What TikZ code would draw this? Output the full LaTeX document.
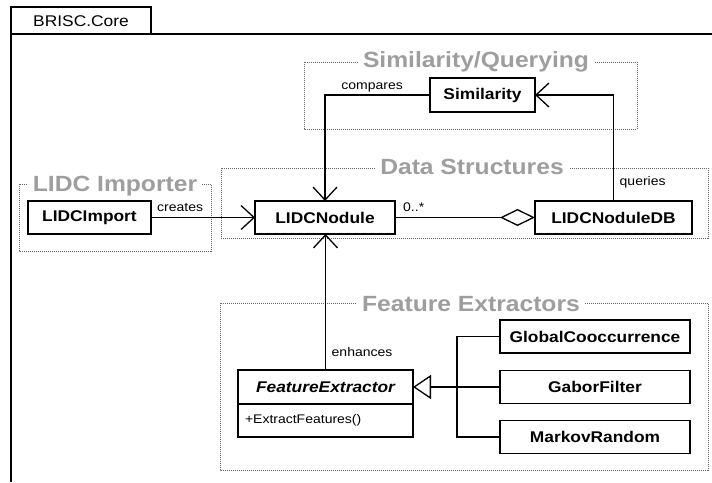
\documentclass[tikz,border=0pt]{standalone}
\usepackage{fontspec}
\setmainfont{Liberation Sans}[FakeStretch=1.12]
\usetikzlibrary{arrows.meta}
\usetikzlibrary{positioning}

\begin{document}
\begin{tikzpicture}
  [
    x=1pt, y=-1pt,
    cls/.style={
      draw,
      line width=1.4pt,
      fill=white,
      inner sep=0pt,
      outer sep=0pt,
      minimum height=33pt,
      font=\fontsize{15.5}{18}\selectfont\bfseries
    },
    grp/.style={
      draw=black!60,
      line width=0.7pt,
      dash pattern=on 1pt off 1pt
    },
    grptitle/.style={
      fill=white,
      inner xsep=5pt,
      inner ysep=1pt,
      text=black!38,
      font=\fontsize{22}{25}\selectfont\bfseries,
      anchor=base
    },
    lbl/.style={
      inner sep=0pt,
      font=\fontsize{12.5}{14}\selectfont
    },
    conn/.style={
      line width=1.3pt
    },
    assoc/.style={
      conn,
      -{Straight Barb[length=13pt,width=24pt,line width=1.3pt]}
    }
  ]
    \useasboundingbox (0,0) rectangle (712,482);
    % package frame
    \draw [line width=1.4pt] (11,482) -- (11,7) -- (151,7) -- (151,34);
    \draw [line width=1.4pt] (11,34) -- (712,34);
    \node [font=\fontsize{15.5}{18}\selectfont] (pkg) at (81,21) {BRISC.Core};
    % groups
    \draw [grp] (304,62) rectangle (637,129);
    \node [grptitle] (ttlsim) at (476,67) {Similarity/Querying};
    \draw [grp] (221,168) rectangle (708,238);
    \node [grptitle] (ttldata) at (472,174) {Data Structures};
    \draw [grp] (19,184) rectangle (211,251);
    \node [grptitle] (ttlimp) at (115,191) {LIDC Importer};
    \draw [grp] (220,303) rectangle (708,470);
    \node [grptitle] (ttlfeat) at (471,311) {Feature Extractors};
    % classes
    \node [cls, minimum width=105pt, minimum height=34pt] (sim) at (482.5,95) {Similarity};
    \node [cls, minimum width=123pt] (imp) at (89.5,217.5) {LIDCImport};
    \node [cls, minimum width=140pt] (nod) at (325,217.5) {LIDCNodule};
    \node [cls, minimum width=157pt] (db) at (613.5,217.5) {LIDCNoduleDB};
    \node [cls, minimum width=175pt, minimum height=34pt,
           font=\fontsize{15.5}{18}\selectfont\bfseries\itshape] (fe) at (325.5,387) {FeatureExtractor};
    \node [cls, minimum width=175pt, below=0pt of fe, text width=161pt, align=left,
           font=\fontsize{12.5}{14}\selectfont] (feops) {+ExtractFeatures()};
    \node [cls, minimum width=190pt] (gc) at (595,336.5) {GlobalCooccurrence};
    \node [cls, minimum width=190pt] (gf) at (595,387) {GaborFilter};
    \node [cls, minimum width=190pt] (mr) at (595,437) {MarkovRandom};
    % associations
    \draw [assoc] (imp.east) -- (nod.west);
    \draw [assoc] (sim.west) -| (nod.north);
    \draw [assoc] (db.north) |- (sim.east);
    \draw [assoc] (fe.north) -- (fe.north |- nod.south);
    \draw [conn, -{Diamond[open,length=35pt,width=17pt,line width=1.3pt]}] (nod.east) -- (db.west);
    % inheritance
    \coordinate (fork) at (457,387);
    \draw [conn] (gc.west) -| (fork) |- (mr.west);
    \draw [conn, -{Triangle[open,length=18pt,width=24pt,line width=1.3pt]}] (gf.west) -- (fe.east);
    % labels
    \node [lbl, anchor=base west] (lcr) at ([xshift=6pt,yshift=6pt]imp.east) {creates};
    \node [lbl, anchor=base west] (lmul) at ([xshift=8pt,yshift=6pt]nod.east) {0..*};
    \node [lbl, anchor=base east] (lcmp) at ([xshift=-27pt,yshift=6pt]sim.west) {compares};
    \node [lbl, anchor=base west] (lqry) at ([xshift=6pt,yshift=16pt]db.north) {queries};
    \node [lbl, anchor=base west] (lenh) at ([xshift=6pt,yshift=14pt]fe.north) {enhances};
\end{tikzpicture}
\end{document}
